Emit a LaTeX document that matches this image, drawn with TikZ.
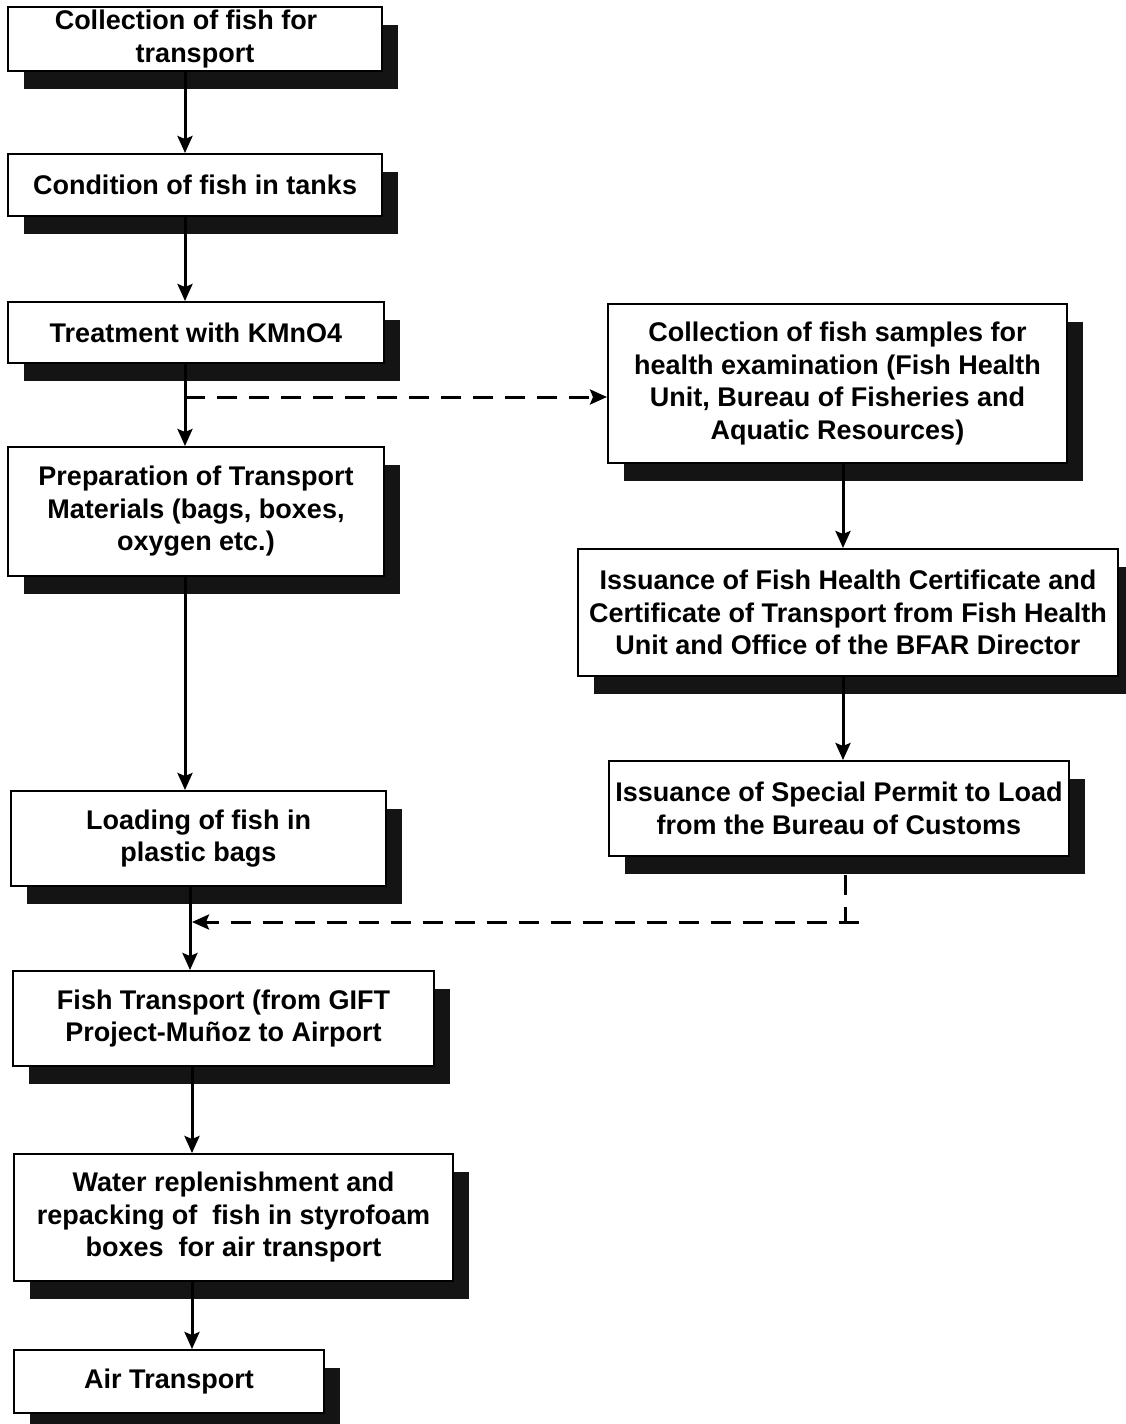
\documentclass[tikz,border=0pt]{standalone}
\usepackage{fontspec}
\setmainfont{Liberation Sans}
\usetikzlibrary{arrows.meta,shadows}
\begin{document}
\begin{tikzpicture}[x=1pt,y=-1pt,
  box/.style={draw=black, line width=2pt, fill=white, anchor=north west,
    align=center, inner sep=2pt, font=\fontsize{27}{32.5}\selectfont\bfseries,
    drop shadow={shadow xshift=16pt, shadow yshift=-18pt, fill=black!92, opacity=1}},
  arr/.style={line width=3pt, -{Stealth[length=17pt,width=15pt,inset=3pt]}},
  darr/.style={line width=3pt, dash pattern=on 20pt off 12pt, -{Stealth[length=17pt,width=15pt,inset=3pt]}},
  dline/.style={line width=3pt, dash pattern=on 20pt off 12pt}]
\useasboundingbox (0,0) rectangle (1126,1424);
% left column
\node[box, minimum width=374pt, minimum height=64pt] (b1) at (7,6) {Collection of fish for\hspace*{18pt}\\transport};
\node[box, minimum width=374pt, minimum height=62pt] (b2) at (7,153) {Condition of fish in tanks};
\node[box, minimum width=376pt, minimum height=61pt] (b3) at (7,301) {Treatment with KMnO4};
\node[box, minimum width=376pt, minimum height=129pt] (b4) at (7,446) {Preparation of Transport\\Materials (bags, boxes,\\oxygen etc.)};
\node[box, minimum width=375pt, minimum height=95pt] (b5) at (10,790) {Loading of fish in\\plastic bags};
\node[box, minimum width=421pt, minimum height=95pt] (b6) at (12,970) {Fish Transport (from GIFT\\Project-Muñoz to Airport};
\node[box, minimum width=439pt, minimum height=127pt] (b7) at (13,1153) {Water replenishment and\\repacking of \ fish in styrofoam\\boxes \ for air transport};
\node[box, minimum width=310pt, minimum height=63pt] (b8) at (13,1349) {Air Transport};
% right column
\node[box, minimum width=459pt, minimum height=159pt] (ra) at (607,303) {Collection of fish samples for\\health examination (Fish Health\\Unit, Bureau of Fisheries and\\Aquatic Resources)};
\node[box, minimum width=540pt, minimum height=127pt, inner sep=1pt] (rb) at (577,548) {Issuance of Fish Health Certificate and\\Certificate of Transport from Fish Health\\Unit and Office of the BFAR Director};
\node[box, minimum width=460pt, minimum height=95pt] (rc) at (608,760) {Issuance of Special Permit to Load\\from the Bureau of Customs};
% junction coordinates
\coordinate (xl) at (185,0);
\coordinate (xm) at (190,0);
\coordinate (xb) at (192,0);
\coordinate (xr) at (843,0);
\coordinate (j1) at (185,397);
\coordinate (j2) at (190,922);
\coordinate (j3) at (845,922);
% connectors
\draw[arr] (b1.south -| xl) -- (b2.north -| xl);
\draw[arr] (b2.south -| xl) -- (b3.north -| xl);
\draw[arr] (b3.south -| xl) -- (b4.north -| xl);
\draw[arr] (b4.south -| xl) -- (b5.north -| xl);
\draw[arr] (b5.south -| xm) -- (b6.north -| xm);
\draw[arr] (b6.south -| xb) -- (b7.north -| xb);
\draw[arr] (b7.south -| xb) -- (b8.north -| xb);
\draw[arr] (ra.south -| xr) -- (rb.north -| xr);
\draw[arr] (rb.south -| xr) -- (rc.north -| xr);
\draw[darr] (j1) -- (j1 -| ra.west);
\draw[dline] ([yshift=-18pt]rc.south -| j3) -- (j3);
\draw[darr] ([xshift=14pt]j3) -- ([xshift=2pt]j2);
\end{tikzpicture}
\end{document}
